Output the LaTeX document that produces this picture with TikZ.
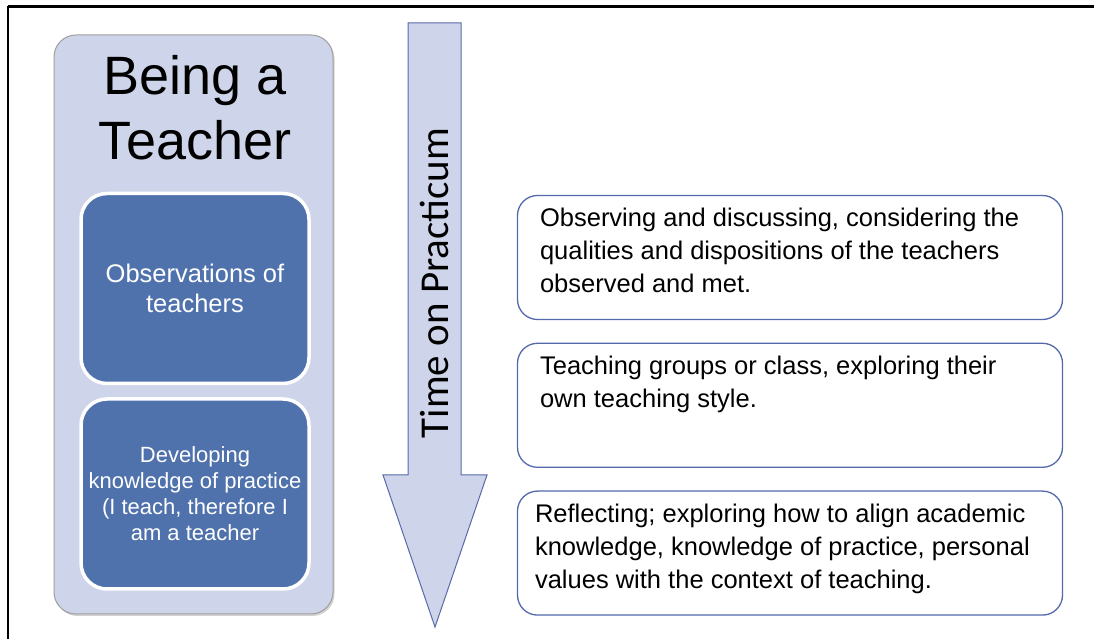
\documentclass[tikz,border=0pt]{standalone}
\usepackage{fontspec}
\setmainfont{Liberation Sans}
\newfontfamily\timefont{Carlito}
\usetikzlibrary{positioning,shadows}

\definecolor{panelfill}{RGB}{206,213,234}
\definecolor{boxblue}{RGB}{79,114,173}
\definecolor{arrowline}{RGB}{88,106,170}
\definecolor{stepline}{RGB}{84,104,172}

\begin{document}
\begin{tikzpicture}[x=1pt,y=1pt,
	panel/.style={draw=gray!75,line width=1pt,fill=panelfill,rounded corners=22pt,
		drop shadow={shadow xshift=1.5pt,shadow yshift=-2pt,opacity=0.35}},
	innerbox/.style={draw=white,line width=3.5pt,fill=boxblue,rounded corners=26pt,
		minimum width=228pt,minimum height=190pt,text=white,align=center},
	stepbox/.style={draw=stepline,line width=1.3pt,fill=white,rounded corners=20pt,
		minimum width=545pt,minimum height=124pt},
	steptext/.style={anchor=north west,inner sep=0pt,align=left,
		font=\fontsize{25.5}{33}\selectfont}]
	\useasboundingbox[fill=white] (0,0) rectangle (1094,639);
	% frame lines
	\draw[line width=3pt] (8,632.5) -- (1094,632.5);
	\draw[line width=2pt] (8,633) -- (8,0);
	% left panel
	\node[panel,minimum width=279pt,minimum height=579pt] (P) at (193.5,314.5) {};
	\node[align=center,font=\fontsize{54}{65}\selectfont] (title) at (195,531) {Being a\\Teacher};
	\node[innerbox,font=\fontsize{25.5}{30}\selectfont] (obsT) at (195,350.5) {Observations of\\teachers};
	\node[innerbox,font=\fontsize{22}{26}\selectfont,below=12pt of obsT] (devT) {Developing\\knowledge of practice\\(I teach, therefore I\\am a teacher};
	% time arrow
	\draw[draw=arrowline,line width=1pt,fill=panelfill] (408,616) -- (461,616) -- (461,164) -- (487,164)
		-- (435,12) -- (383,164) -- (408,164) -- cycle;
	\node[rotate=90,font=\timefont\fontsize{41}{48}\selectfont] (time) at (434,356) {Time on Practicum};
	% right boxes
	\node[stepbox] (S1) at (790,381.5) {};
	\node[stepbox,below=22.5pt of S1] (S2) {};
	\node[stepbox,below=22.5pt of S2] (S3) {};
	\node[steptext] (S1t) at ([xshift=23pt,yshift=-13pt]S1.north west) {Observing and discussing, considering the\\qualities and dispositions of the teachers\\observed and met.};
	\node[steptext] (S2t) at ([xshift=23pt,yshift=-13pt]S2.north west) {Teaching groups or class, exploring their\\own teaching style.};
	\node[steptext] (S3t) at ([xshift=18pt,yshift=-13pt]S3.north west) {Reflecting; exploring how to align academic\\knowledge, knowledge of practice, personal\\values with the context of teaching.};
\end{tikzpicture}
\end{document}
